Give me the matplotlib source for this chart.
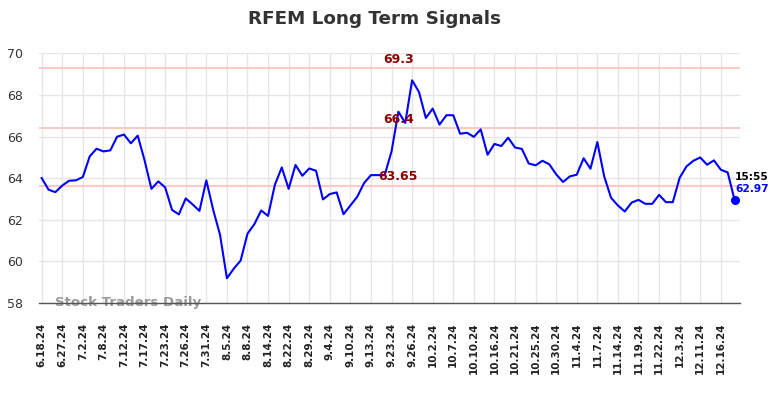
import matplotlib
matplotlib.use("Agg")
import matplotlib.pyplot as plt
import numpy as np

title = "RFEM Long Term Signals"
tick_labels = ["6.18.24", "6.27.24", "7.2.24", "7.8.24", "7.12.24", "7.17.24", "7.23.24",
               "7.26.24", "7.31.24", "8.5.24", "8.8.24", "8.14.24", "8.22.24", "8.29.24",
               "9.4.24", "9.10.24", "9.13.24", "9.23.24", "9.26.24", "10.2.24", "10.7.24",
               "10.10.24", "10.16.24", "10.21.24", "10.25.24", "10.30.24", "11.4.24",
               "11.7.24", "11.14.24", "11.19.24", "11.22.24", "12.3.24", "12.11.24", "12.16.24"]
prices = [64.01, 63.45, 63.33, 63.65, 63.88, 63.90, 64.06, 65.05, 65.42, 65.29,
          65.34, 66.00, 66.10, 65.68, 66.05, 64.86, 63.49, 63.85, 63.56, 62.48,
          62.26, 63.03, 62.74, 62.43, 63.90, 62.48, 61.28, 59.19, 59.65, 60.04,
          61.33, 61.79, 62.45, 62.19, 63.69, 64.52, 63.49, 64.64, 64.12, 64.47,
          64.36, 62.98, 63.24, 63.32, 62.27, 62.69, 63.11, 63.77, 64.15, 64.15,
          64.15, 65.29, 67.20, 66.66, 68.71, 68.15, 66.90, 67.35, 66.58, 67.03,
          67.03, 66.14, 66.19, 65.99, 66.35, 65.13, 65.65, 65.55, 65.95, 65.48,
          65.41, 64.71, 64.62, 64.84, 64.67, 64.19, 63.82, 64.09, 64.17, 64.96,
          64.46, 65.74, 64.09, 63.06, 62.69, 62.40, 62.83, 62.96, 62.77, 62.77,
          63.20, 62.85, 62.85, 64.02, 64.57, 64.84, 65.00, 64.65, 64.86, 64.41,
          64.28, 62.97]
signal_levels = [69.3, 66.4, 63.65]
signal_texts = ["69.3", "66.4", "63.65"]
last_time = "15:55"
last_text = "62.97"
watermark = "Stock Traders Daily"
y_ticks = [58, 60, 62, 64, 66, 68, 70]

fig = plt.figure(figsize=(7.84, 3.98), dpi=100)
ax = fig.add_axes([0.0501, 0.2387, 0.8938, 0.6269])

x = np.arange(len(prices))
tick_pos = np.arange(0, len(tick_labels) * 3, 3)

for lvl in signal_levels:
    ax.axhline(lvl, color="#ffc8c8", lw=1.5, zorder=1)

ax.plot(x, prices, color="#0000ff", lw=1.5, zorder=3)
ax.plot(x[-1], prices[-1], "o", color="#0000ff", ms=5.5, zorder=4)

label_x = 52
for lvl, txt in zip(signal_levels, signal_texts):
    ax.text(label_x, lvl + 0.12, txt, color="#8b0000", fontsize=9, fontweight="bold",
            ha="center", va="bottom", zorder=5)

ax.text(x[-1] + 0.1, prices[-1] + 1.1, last_time, color="black", fontsize=7.7,
        fontweight="bold", ha="left", va="center", zorder=5)
ax.text(x[-1] + 0.1, prices[-1] + 0.5, last_text, color="#0000ff", fontsize=7.7,
        fontweight="bold", ha="left", va="center", zorder=5)

ax.text(1.9, 58.0, watermark, color="#999999", fontsize=9.6, fontweight="bold",
        ha="left", va="center", zorder=2)

ax.set_xlim(-0.35, 101.8)
ax.set_ylim(58, 70)
ax.set_xticks(tick_pos)
ax.set_xticklabels(tick_labels, rotation=90, fontsize=7.5, fontweight="bold", color="#222222")
ax.set_yticks(y_ticks)
ax.set_yticklabels([str(v) for v in y_ticks], fontsize=9, color="#333333")
ax.tick_params(axis="x", length=0, pad=14)
ax.tick_params(axis="y", length=0, pad=12)
ax.grid(True, color="#e6e6e6", lw=1)
ax.set_axisbelow(True)
for s in ["top", "right", "left"]:
    ax.spines[s].set_visible(False)
ax.spines["bottom"].set_color("#555555")
ax.spines["bottom"].set_linewidth(1)

fig.suptitle(title, fontsize=13.2, fontweight="bold", color="#333333", x=0.478, y=0.975)

fig.savefig("out.png", dpi=100)
